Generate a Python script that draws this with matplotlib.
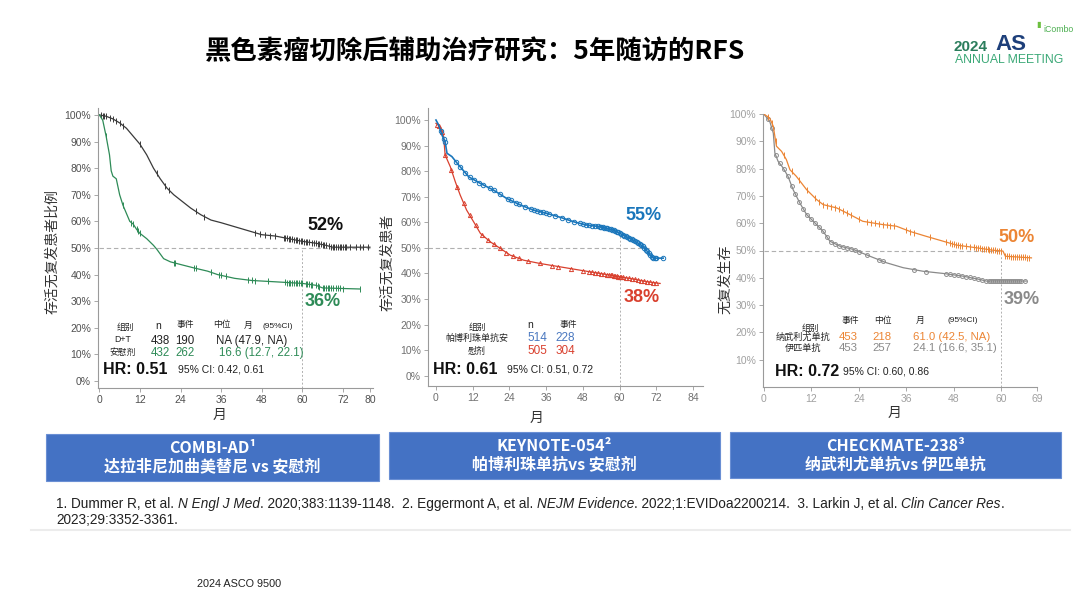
import numpy as np
import matplotlib
matplotlib.use('Agg')
import matplotlib.pyplot as plt
import matplotlib.patches as patches

plt.rcParams['font.family'] = ['Liberation Sans', 'Noto Sans CJK SC', 'DejaVu Sans']

# ---- data ----
# COMBI-AD
p1_dt_t = [0, 2, 4, 6, 8, 10, 12, 14, 16, 18, 20, 22, 24, 27, 30, 33, 36, 40, 44, 48, 52, 56, 60, 64, 67, 69, 80]
p1_dt_s = [100, 99.5, 98.5, 97, 95, 92, 89, 85, 80, 76, 72.5, 70, 68, 65, 62.5, 60.5, 59.5, 58, 56.5, 55, 54.5, 53.5, 52.5, 51.8, 51, 50.3, 50.3]
p1_pl_t = [0, 1, 2, 3, 3.5, 4, 5, 6, 7, 8, 9, 10, 11, 12, 14, 16, 17, 19, 21, 24, 28, 32, 35, 40, 45, 52, 60, 64, 66, 77]
p1_pl_s = [100, 98, 92, 85, 79, 77, 76, 70, 66, 63, 60, 59, 57, 55.5, 53.5, 51, 49.5, 46, 44.8, 43.8, 42.5, 41.3, 40, 38.6, 37.8, 37.3, 36.7, 36, 35, 34.6]
p1_dt_cens = [0.5, 1, 1.5, 2, 3, 4, 5, 6, 7, 12, 17, 19.5, 20.5, 28.5, 31, 46, 47.5, 49, 50.5, 52, 54.5, 55, 55.5, 56, 56.5,
              57, 57.5, 58, 58.5, 59, 59.5, 60, 60.5, 61, 61.5, 62, 63, 63.5, 64, 64.5, 65, 65.5, 66, 66.5, 67, 68,
              68.5, 69, 69.5, 70, 70.5, 71, 71.5, 72, 72.5, 73, 74, 76, 77, 78, 79.5]
p1_pl_cens = [2, 7, 9.5, 10, 11, 11.5, 12, 22, 22.5, 28, 28.5, 33, 35.5, 36, 37.5, 44, 45, 46, 50, 55, 55.5, 56, 56.5,
              57, 57.5, 58, 58.5, 59, 59.5, 60, 61, 61.5, 62, 62.5, 63, 64, 64.5, 65, 66, 66.5, 67, 67.5, 68, 68.5,
              69, 70, 70.5, 71, 72, 77]
p1_groups = ['D+T', '安慰剂']
p1_n = [438, 432]
p1_events = [190, 262]
p1_median = ['NA (47.9, NA)', '16.6 (12.7, 22.1)']

# KEYNOTE-054
p2_pb_t = [0, 0.9, 2, 3, 3.6, 5.2, 7.4, 10.7, 14.5, 18.8, 23, 27.5, 31.8, 36.2, 40.5, 45, 49, 53.6, 58, 60, 64.5, 67.7, 70, 71, 74.2]
p2_pb_s = [100, 98, 94, 91.5, 87, 85.7, 82.4, 77.8, 75.2, 72.6, 69.4, 66.8, 64.8, 63.5, 62, 60.2, 59, 58.3, 57, 55.7, 53, 50.5, 47.2, 46, 46]
p2_pl_t = [0, 1.4, 2.5, 3, 4.7, 6.3, 7.9, 10, 12.3, 14.5, 17.7, 21, 24.2, 28.6, 34, 40.5, 47, 53.6, 60, 64.5, 68.8, 73.2]
p2_pl_s = [98.7, 97.4, 93.5, 86.3, 81.7, 75.9, 70.7, 64.8, 60.2, 55.7, 52.4, 49.8, 47.2, 45.2, 43.9, 42.6, 41.3, 40, 38.7, 37.8, 36.8, 36.1]
p2_pb_cens = [1.5, 2.5, 3, 6.5, 8, 9.5, 11, 12.5, 14, 15.5, 17.5, 19, 21, 23.5, 24.5, 26, 27, 29, 31, 32, 33, 34, 35, 36,
              37, 39, 41, 43, 45, 47, 48, 49, 50, 51, 52, 53, 53.5, 54, 54.5, 55, 55.5, 56, 56.5, 57, 57.5, 58, 58.5,
              59, 59.5, 60, 60.5, 61, 61.5, 62, 62.5, 63, 63.5, 64, 64.5, 65, 65.5, 66, 66.5, 67, 67.5, 68, 68.5, 69,
              69.5, 70, 70.5, 71, 71.5, 72, 74]
p2_pl_cens = [0.5, 1, 2, 3, 5, 7, 9, 11, 13, 15, 17, 19, 21, 23, 25, 27, 30, 34, 38, 40, 44, 48, 50, 51, 52, 53, 54, 55,
              56, 56.5, 57, 57.5, 58, 58.5, 59, 59.5, 60, 60.5, 61, 62, 63, 64, 65, 66, 67, 68, 69, 70, 71, 72]
p2_groups = ['帕博利珠单抗安', '慰剂']
p2_n = [514, 505]
p2_events = [228, 304]

# CHECKMATE-238
p3_nv_t = [0, 1.5, 2.4, 2.8, 3.2, 4.5, 5.7, 6.6, 8.2, 10.8, 13.3, 15, 18.4, 21.7, 25, 30, 33.5, 36.9, 41, 45.3, 48.6, 53.7, 57.9, 60.4, 61, 67.6]
p3_nv_s = [100, 98.5, 95.5, 91.8, 88.2, 86.3, 83.3, 79.6, 77.2, 72.3, 68.7, 66.8, 65.6, 63.2, 60.7, 59.5, 58.9, 57, 55.2, 53.4, 52, 51, 50.1, 49.8, 47.9, 47.3]
p3_ip_t = [0, 1.5, 2.4, 2.8, 3.6, 4.9, 6.1, 7.4, 9.1, 10.8, 12.5, 15, 16.7, 19.2, 22.6, 26.8, 31, 35.2, 40.2, 45.3, 50.3, 54.5, 56.2, 66.3]
p3_ip_s = [100, 97.3, 93, 85.7, 82.7, 80.2, 77.2, 72.3, 67.4, 63.2, 60.7, 57, 53.4, 51.6, 50.4, 47.9, 45.5, 43.7, 42.4, 41.6, 40.6, 39.4, 38.8, 38.8]
p3_nv_cens = [1, 2, 3, 5, 7, 9, 11, 13, 14, 15, 16, 17, 18, 19, 20, 21, 22, 24, 26, 27, 28, 29, 30, 31, 32, 33, 36, 37,
              38, 42, 46, 47, 47.5, 48, 48.5, 49, 49.5, 50, 51, 52, 53, 53.5, 54, 54.5, 55, 55.5, 56, 56.5, 57, 57.5,
              58, 58.5, 59, 59.5, 60, 61, 61.5, 62, 62.5, 63, 63.5, 64, 64.5, 65, 65.5, 66, 66.5, 67]
p3_ip_cens = [1, 2, 3, 4, 5, 6, 7, 8, 9, 10, 11, 12, 13, 14, 15, 16, 17, 18, 19, 20, 21, 22, 23, 24, 26, 29, 30, 38, 41,
              46, 47, 48, 49, 50, 51, 52, 53, 54, 55, 56, 57, 57.5, 58, 58.5, 59, 59.5, 60, 60.5, 61, 61.5, 62, 62.5,
              63, 63.5, 64, 64.5, 65, 66]
p3_groups = ['纳武利尤单抗', '伊匹单抗']
p3_n = [453, 453]
p3_events = [218, 257]
p3_median = ['61.0 (42.5, NA)', '24.1 (16.6, 35.1)']

pct_ticks = [0, 10, 20, 30, 40, 50, 60, 70, 80, 90, 100]

# ---- layout helpers (pixel positions on the 1080x608 slide) ----
W, H = 1080, 608
fig = plt.figure(figsize=(10.8, 6.08), dpi=100)
fig.patch.set_facecolor('white')


def fx(x):
    return x / W


def fy(y):
    return 1 - y / H


def txt(x, y, s, **kw):
    kw.setdefault('ha', 'center')
    kw.setdefault('va', 'center')
    return fig.text(fx(x), fy(y), s, **kw)


def make_ax(l, t, r, b):
    return fig.add_axes([fx(l), fy(b), (r - l) / W, (b - t) / H])


def style(ax, tc, xt, yt):
    for s in ['top', 'right']:
        ax.spines[s].set_visible(False)
    for s in ['left', 'bottom']:
        ax.spines[s].set_color('#9a9a9a')
        ax.spines[s].set_linewidth(0.8)
    ax.set_xticks(xt)
    ax.set_yticks(yt)
    ax.set_yticklabels([f'{v}%' for v in yt])
    ax.tick_params(colors='#9a9a9a', labelcolor=tc, labelsize=7.5, length=3, width=0.6, pad=2)


def km(ax, t, s, cens, color, marker, ms, lw=0.9):
    ax.plot(t, s, color=color, lw=lw)
    ax.plot(cens, np.interp(cens, t, s), ls='none', marker=marker, color=color,
            ms=ms, mfc='none', mew=0.7)


dash = dict(color='#b0b0b0', lw=0.8, ls=(0, (4, 2.5)))

# ---- title + logo ----
txt(475, 52, '黑色素瘤切除后辅助治疗研究：5年随访的RFS', fontsize=19, fontweight='bold',
    family=['Noto Sans CJK SC', 'DejaVu Sans'], color='black')
txt(954, 47, '2024', ha='left', fontsize=11, fontweight='bold', color='#2b7d5c')
txt(995, 44, 'AS', ha='left', fontsize=16, fontweight='bold', color='#1d3f7a')
txt(1036, 25, '▮', ha='left', fontsize=6, color='#6cbf3f', family=['DejaVu Sans'])
txt(1043, 29, 'iCombo', ha='left', fontsize=6.3, color='#4caf50')
txt(955, 60, 'ANNUAL MEETING', ha='left', fontsize=8.8, color='#3aa876')

# ---- panel 1: COMBI-AD ----
ax1 = make_ax(98, 108, 373, 388)
style(ax1, '#505050', [0, 12, 24, 36, 48, 60, 72, 80], pct_ticks)
ax1.set_xlim(-0.4, 80.9)
ax1.set_ylim(-2.6, 102.6)
ax1.plot([0, 80], [50, 50], **dash)
ax1.plot([60, 60], [-2.6, 50], color='#b0b0b0', lw=0.7, ls=(0, (2, 2)))
km(ax1, p1_dt_t, p1_dt_s, p1_dt_cens, '#3a3a3a', '|', 4.5)
km(ax1, p1_pl_t, p1_pl_s, p1_pl_cens, '#2e8b57', '|', 4.5)

txt(52, 252, '存活无复发患者比例', rotation=90, fontsize=10, color='#333333')
txt(220, 415, '月', fontsize=10, color='#333333')
txt(325, 226, '52%', fontsize=13, fontweight='bold', color='#111111')
txt(323, 302, '36%', fontsize=13, fontweight='bold', color='#2e8b57')

hdr = dict(fontsize=6.3, color='#222222')
txt(125, 327, '组别', **hdr)
txt(158, 326, 'n', fontsize=7.5, color='#222222')
txt(185, 325, '事件', **hdr)
txt(222, 325, '中位', **hdr)
txt(248, 325, '月', **hdr)
txt(278, 326, '(95%CI)', fontsize=6, color='#222222')
row_c = ['#222222', '#2e8b57']
for i, yy in enumerate([340, 352]):
    txt(123, yy, p1_groups[i], fontsize=6.3, color='#222222')
    txt(160, yy + 1, str(p1_n[i]), fontsize=8.3, color=row_c[i])
    txt(185, yy + 1, str(p1_events[i]), fontsize=8.3, color=row_c[i])
    txt(216 + 3 * i, yy + 1, p1_median[i], ha='left', fontsize=8.3, color=row_c[i])
txt(103, 369, 'HR: 0.51', ha='left', fontsize=11.5, fontweight='bold', color='#111111')
txt(178, 370, '95% CI: 0.42, 0.61', ha='left', fontsize=7.5, color='#222222')

# ---- panel 2: KEYNOTE-054 ----
blue, red = '#1a76bb', '#d9402e'
ax2 = make_ax(428, 108, 703, 386)
style(ax2, '#707070', [0, 12, 24, 36, 48, 60, 72, 84], pct_ticks)
ax2.set_xlim(-2.6, 87.2)
ax2.set_ylim(-4.0, 104.7)
ax2.plot([-2.6, 70], [50, 50], **dash)
ax2.plot([60, 60], [-4, 55], color='#b0b0b0', lw=0.7, ls=(0, (2, 2)))
km(ax2, p2_pl_t, p2_pl_s, p2_pl_cens, red, '^', 3)
km(ax2, p2_pb_t, p2_pb_s, p2_pb_cens, blue, 'o', 3.2, lw=1.2)

txt(387, 262, '存活无复发患者', rotation=90, fontsize=10, color='#333333')
txt(537, 418, '月', fontsize=10, color='#333333')
txt(643, 215, '55%', fontsize=13, fontweight='bold', color=blue)
txt(642, 297, '38%', fontsize=13, fontweight='bold', color=red)

txt(477, 327, '组别', **hdr)
txt(530, 325, 'n', fontsize=7.5, color='#222222')
txt(568, 325, '事件', **hdr)
row_c2 = ['#4a78c0', red]
for i, yy in enumerate([338, 351]):
    txt(477, yy, p2_groups[i], fontsize=6.5, color='#222222')
    txt(537, yy, str(p2_n[i]), fontsize=8.5, color=row_c2[i])
    txt(565, yy, str(p2_events[i]), fontsize=8.5, color=row_c2[i])
txt(433, 369, 'HR: 0.61', ha='left', fontsize=11.5, fontweight='bold', color='#111111')
txt(507, 370, '95% CI: 0.51, 0.72', ha='left', fontsize=7.5, color='#222222')

# ---- panel 3: CHECKMATE-238 ----
orange, grey = '#ec8534', '#8a8a8a'
ax3 = make_ax(763, 114, 1037, 387)
style(ax3, '#a0a0a0', [0, 12, 24, 36, 48, 60, 69], pct_ticks[1:])
ax3.set_xlim(-0.2, 69)
ax3.set_ylim(0, 100)
ax3.plot([0, 60], [50, 50], **dash)
ax3.plot([60, 60], [0, 50], color='#b0b0b0', lw=0.7, ls=(0, (2, 2)))
km(ax3, p3_ip_t, p3_ip_s, p3_ip_cens, grey, 'o', 2.8)
km(ax3, p3_nv_t, p3_nv_s, p3_nv_cens, orange, '|', 4.5)

txt(725, 279, '无复发生存', rotation=90, fontsize=10, color='#333333')
txt(895, 413, '月', fontsize=10, color='#333333')
txt(1017, 237, '50%', fontsize=13, fontweight='bold', color=orange)
txt(1022, 300, '39%', fontsize=13, fontweight='bold', color=grey)

txt(850, 320, '事件', **hdr)
txt(883, 320, '中位', **hdr)
txt(920, 320, '月', **hdr)
txt(963, 320, '(95%CI)', fontsize=6, color='#222222')
txt(810, 328, '组别', **hdr)
row_c3 = [orange, grey]
for i, yy in enumerate([337, 348]):
    txt(803, yy, p3_groups[i], fontsize=6.6, color='#222222')
    txt(848, yy, str(p3_n[i]), fontsize=8.2, color=row_c3[i])
    txt(882, yy, str(p3_events[i]), fontsize=8.2, color=row_c3[i])
    txt(913, yy, p3_median[i], ha='left', fontsize=8.2, color=row_c3[i])
txt(775, 372, 'HR: 0.72', ha='left', fontsize=11.5, fontweight='bold', color='#111111')
txt(843, 372, '95% CI: 0.60, 0.86', ha='left', fontsize=7.5, color='#222222')

# ---- blue study boxes ----
boxes = [(46, 434, 379, 481, 'COMBI-AD¹', '达拉非尼加曲美替尼 vs 安慰剂'),
         (389, 432, 720, 479, 'KEYNOTE-054²', '帕博利珠单抗vs 安慰剂'),
         (730, 432, 1061, 478, 'CHECKMATE-238³', '纳武利尤单抗vs 伊匹单抗')]
for l, t, r, b, l1, l2 in boxes:
    fig.patches.append(patches.Rectangle((fx(l), fy(b)), (r - l) / W, (b - t) / H,
                                         transform=fig.transFigure, facecolor='#4472c4',
                                         edgecolor='#6a8fd4', lw=0.8))
    cx = (l + r) / 2
    txt(cx, t + 14, l1, fontsize=11.5, fontweight='bold', color='white',
        family=['Noto Sans CJK SC', 'DejaVu Sans'])
    txt(cx, t + 33, l2, fontsize=11.5, fontweight='bold', color='white',
        family=['Noto Sans CJK SC', 'DejaVu Sans'])

# ---- references ----
refs = [('1. Dummer R, et al. ', 'normal'), ('N Engl J Med', 'italic'), ('. 2020;383:1139-1148.  2. Eggermont A, et al. ', 'normal'),
        ('NEJM Evidence', 'italic'), ('. 2022;1:EVIDoa2200214.  3. Larkin J, et al. ', 'normal'),
        ('Clin Cancer Res', 'italic'), ('.', 'normal')]
renderer = fig.canvas.get_renderer()
x = 56
for s, st in refs:
    t = txt(x, 504, s, ha='left', fontsize=9.8, style=st, color='#222222')
    x += t.get_window_extent(renderer).width
txt(56, 520, '2023;29:3352-3361.', ha='left', fontsize=9.8, color='#222222')
fig.add_artist(plt.Line2D([fx(31), fx(1070)], [fy(530), fy(530)], transform=fig.transFigure,
                          color='#ececec', lw=1.5))

txt(197, 584, '2024 ASCO 9500', ha='left', fontsize=7.8, color='#222222',
    family=['Liberation Sans Narrow', 'Liberation Sans'])

fig.savefig('out.png', dpi=100)
